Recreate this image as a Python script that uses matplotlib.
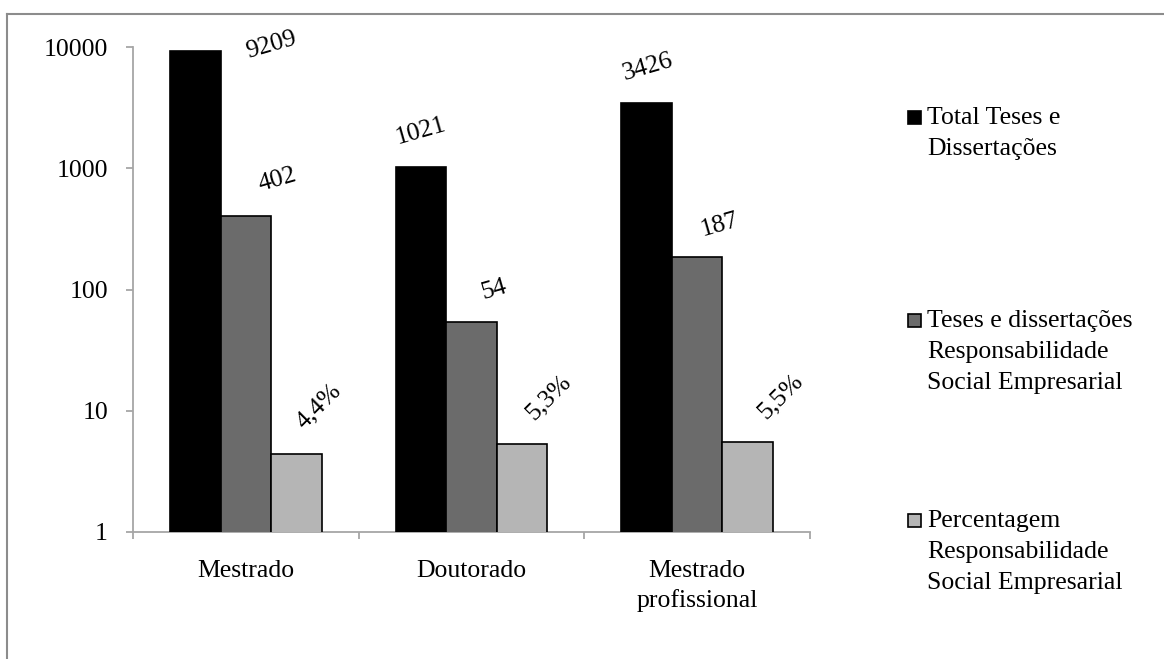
import matplotlib
matplotlib.use("Agg")
import matplotlib.pyplot as plt
from matplotlib.lines import Line2D
from matplotlib.patches import Rectangle
from matplotlib.ticker import FixedLocator, NullLocator, NullFormatter
import numpy as np

# ---- data ----
categories = ["Mestrado", "Doutorado", "Mestrado\nprofissional"]
total = [9209, 1021, 3426]
rse = [402, 54, 187]
percent = [4.4, 5.3, 5.5]
series_names = ["Total Teses e\nDissertações",
                "Teses e dissertações\nResponsabilidade\nSocial Empresarial",
                "Percentagem\nResponsabilidade\nSocial Empresarial"]
y_ticks = [1, 10, 100, 1000, 10000]

# ---- style ----
colors = ["#000000", "#6b6b6b", "#b5b5b5"]
axis_gray = "#a6a6a6"
font = "Liberation Serif"
fs = 18.5
plt.rcParams["font.family"] = font

W, H, DPI = 1164, 659, 100
fig = plt.figure(figsize=(W / DPI, H / DPI), dpi=DPI)
ax = fig.add_axes([133 / W, 1 - 532 / H, 677 / W, 485 / H])

x = np.arange(len(categories))
bw = 0.224
series = [total, rse, percent]
for i, vals in enumerate(series):
    ax.bar(x + (i - 1) * bw, vals, width=bw, bottom=0,
           color=colors[i], edgecolor="#000000", linewidth=1.2, zorder=3)

ax.set_yscale("log")
ax.set_ylim(1, 10000)
ax.set_xlim(-0.5, 2.5)

# y axis
ax.yaxis.set_major_locator(FixedLocator(y_ticks))
ax.yaxis.set_minor_locator(NullLocator())
ax.set_yticklabels([str(v) for v in y_ticks])
ax.tick_params(axis="y", which="major", length=5, width=1.3, color=axis_gray,
               pad=13, labelsize=fs)

# x axis: tick marks at group boundaries, labels at group centres
ax.xaxis.set_major_locator(FixedLocator([-0.5, 0.5, 1.5, 2.5]))
ax.xaxis.set_major_formatter(NullFormatter())
ax.set_xticks(x, minor=True)
ax.set_xticklabels(categories, minor=True, fontsize=fs, linespacing=1.4)
ax.tick_params(axis="x", which="major", length=5, width=1.3, color=axis_gray)
ax.tick_params(axis="x", which="minor", length=0, pad=20)

for s in ["top", "right"]:
    ax.spines[s].set_visible(False)
for s in ["left", "bottom"]:
    ax.spines[s].set_color(axis_gray)
    ax.spines[s].set_linewidth(1.3)

# value labels (rotated), nudged in pixels from each bar top
labels = [[str(v) for v in total], [str(v) for v in rse],
          [f"{v:.1f}".replace(".", ",") + "%" for v in percent]]
nudges = [[(76, 6), (0, 36), (1, 36)],
          [(32, 36), (23, 32), (22, 32)],
          [(22, 48), (27, 47), (33, 46)]]
angles = [16, 16, 45]
for i, vals in enumerate(series):
    for j, v in enumerate(vals):
        ax.annotate(labels[i][j], xy=(x[j] + (i - 1) * bw, v),
                    xytext=nudges[i][j], textcoords="offset pixels",
                    ha="center", va="center", rotation=angles[i],
                    rotation_mode="anchor", fontsize=fs, zorder=4)

# legend, one entry per series, marker aligned with the first text line
entry_tops = [118, 321, 521]
pitch = 31
for i, name in enumerate(series_names):
    yc = entry_tops[i]
    fig.add_artist(Rectangle((908 / W, 1 - (yc + 6) / H), 13 / W, 13 / H,
                             transform=fig.transFigure, facecolor=colors[i],
                             edgecolor="#000000", linewidth=1.2))
    for k, line in enumerate(name.split("\n")):
        fig.text(927 / W, 1 - (yc + k * pitch) / H, line, ha="left",
                 va="center", fontsize=fs)

# outer frame (left and top edges)
fig.add_artist(Line2D([6.5 / W, 6.5 / W], [0, 1 - 14 / H], transform=fig.transFigure,
                      color="#8c8c8c", linewidth=1.5))
fig.add_artist(Line2D([6.5 / W, 1], [1 - 14 / H, 1 - 14 / H], transform=fig.transFigure,
                      color="#8c8c8c", linewidth=1.5))

fig.savefig("out.png", dpi=DPI, facecolor="white")
